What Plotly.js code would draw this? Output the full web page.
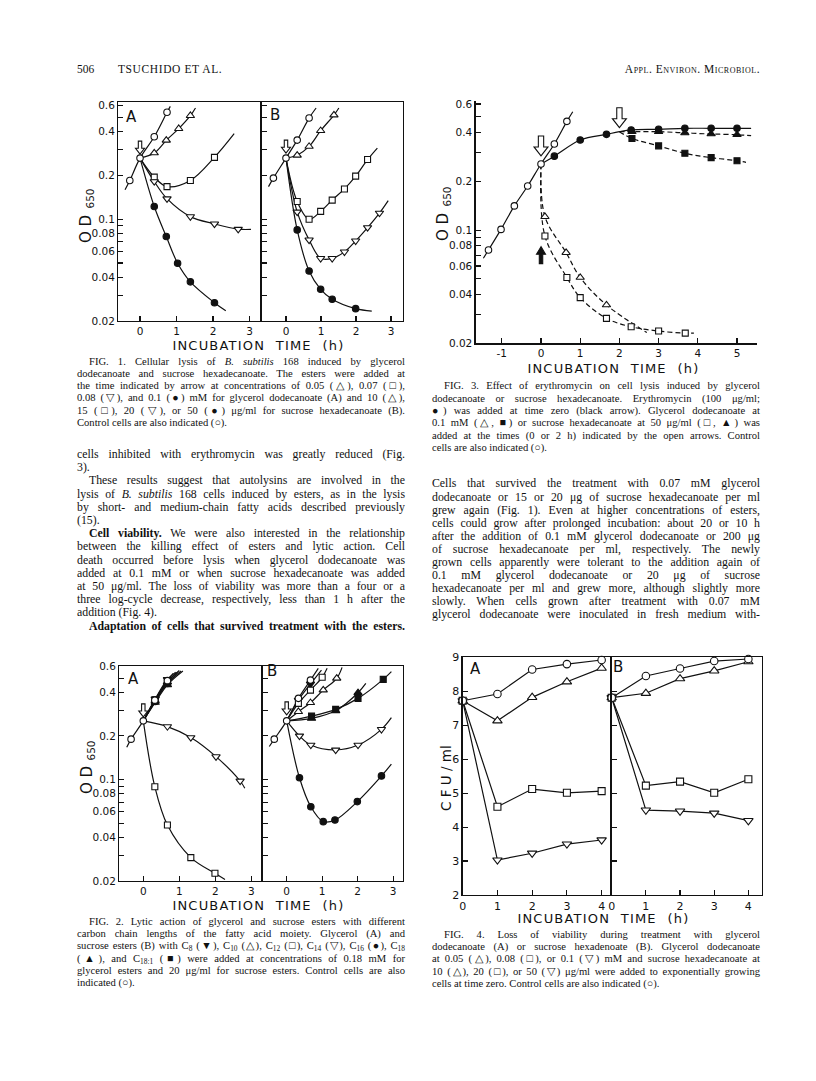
<!DOCTYPE html>
<html><head><meta charset="utf-8">
<script src="https://cdn.plot.ly/plotly-3.0.1.min.js"></script>
<style>
html,body{margin:0;padding:0;background:#fff;}
#page{position:relative;width:816px;height:1081px;overflow:hidden;background:#fff;}
#plot{position:absolute;left:0;top:0;width:816px;height:1081px;}
.tl{position:absolute;font-family:"Liberation Serif","Times New Roman",serif;color:#111;text-align:justify;text-align-last:justify;}
.tl.last{text-align-last:left;}
.tl sub{font-size:70%;vertical-align:-2px;line-height:1;}
.hd{position:absolute;font-family:"Liberation Serif","Times New Roman",serif;color:#111;font-size:11.5px;line-height:14px;white-space:nowrap;}
</style></head><body><div id="page"><div id="plot"></div></div>
<script>
// ================= DATA =================
// Fig. 1 (OD650 vs incubation time, h); *_pt: 1 = plotted symbol, 0 = curve end only
const f1a_ctrl_t = [-0.41, -0.28, 0, 0.39, 0.74, 0.83];
const f1a_ctrl_od = [0.159, 0.184, 0.262, 0.367, 0.54, 0.593];
const f1a_ctrl_pt = [0, 1, 1, 1, 1, 0];
const f1a_g005_t = [0, 0.39, 0.72, 1.06, 1.38, 1.52];
const f1a_g005_od = [0.262, 0.284, 0.347, 0.417, 0.512, 0.578];
const f1a_g005_pt = [0, 1, 1, 1, 1, 0];
const f1a_g007_t = [0, 0.39, 0.74, 1.38, 2.04, 2.58];
const f1a_g007_od = [0.262, 0.194, 0.167, 0.184, 0.265, 0.385];
const f1a_g007_pt = [0, 1, 1, 1, 1, 0];
const f1a_g008_t = [0, 0.39, 0.74, 1.38, 2.04, 2.69, 3.04];
const f1a_g008_od = [0.262, 0.181, 0.138, 0.104, 0.0927, 0.0853, 0.085];
const f1a_g008_pt = [0, 1, 1, 1, 1, 1, 0];
const f1a_g010_t = [0, 0.39, 0.72, 1.03, 1.38, 2.04, 2.35];
const f1a_g010_od = [0.262, 0.122, 0.0759, 0.0498, 0.0371, 0.0267, 0.0235];
const f1a_g010_pt = [0, 1, 1, 1, 1, 1, 0];

const f1b_ctrl_t = [-0.5, -0.36, 0, 0.32, 0.66, 0.86];
const f1b_ctrl_od = [0.167, 0.191, 0.262, 0.348, 0.493, 0.578];
const f1b_ctrl_pt = [0, 1, 1, 1, 1, 0];
const f1b_s10_t = [0, 0.32, 0.66, 0.99, 1.37, 1.51];
const f1b_s10_od = [0.262, 0.274, 0.315, 0.404, 0.517, 0.578];
const f1b_s10_pt = [0, 1, 1, 1, 1, 0];
const f1b_s15_t = [0, 0.32, 0.66, 0.99, 1.32, 1.67, 1.99, 2.33, 2.61];
const f1b_s15_od = [0.262, 0.132, 0.0998, 0.113, 0.135, 0.161, 0.197, 0.256, 0.307];
const f1b_s15_pt = [0, 1, 1, 1, 1, 1, 1, 1, 0];
const f1b_s20_t = [0, 0.32, 0.66, 0.99, 1.32, 1.67, 1.99, 2.33, 2.67, 2.92];
const f1b_s20_od = [0.262, 0.112, 0.072, 0.0538, 0.0538, 0.0596, 0.0709, 0.0875, 0.110, 0.134];
const f1b_s20_pt = [0, 1, 1, 1, 1, 1, 1, 1, 1, 0];
const f1b_s50_t = [0, 0.32, 0.66, 0.99, 1.32, 1.99, 2.45];
const f1b_s50_od = [0.262, 0.0843, 0.0441, 0.033, 0.0282, 0.0243, 0.0234];
const f1b_s50_pt = [0, 1, 1, 1, 1, 1, 0];

// Fig. 2 (OD650, chain length series)
const f2a_ctrl_t = [-0.46, -0.34, 0, 0.32, 0.67, 0.83];
const f2a_ctrl_od = [0.167, 0.19, 0.254, 0.353, 0.481, 0.54];
const f2a_ctrl_pt = [0, 1, 1, 1, 1, 0];
const f2a_c8_t = [0, 0.33, 0.67, 0.9];   const f2a_c8_od = [0.254, 0.36, 0.49, 0.55];   const f2a_c8_pt = [0, 1, 1, 0];
const f2a_c10_t = [0, 0.33, 0.67, 1.0];  const f2a_c10_od = [0.254, 0.35, 0.47, 0.565]; const f2a_c10_pt = [0, 1, 1, 0];
const f2a_c16_t = [0, 0.33, 0.67, 1.05]; const f2a_c16_od = [0.254, 0.345, 0.46, 0.56]; const f2a_c16_pt = [0, 1, 1, 0];
const f2a_c18_t = [0, 0.33, 0.67, 1.1];  const f2a_c18_od = [0.254, 0.34, 0.45, 0.56];  const f2a_c18_pt = [0, 1, 1, 0];
const f2a_c181_t = [0, 0.33, 0.67, 0.95]; const f2a_c181_od = [0.254, 0.355, 0.475, 0.55]; const f2a_c181_pt = [0, 1, 1, 0];
const f2a_c12_t = [0, 0.32, 0.67, 1.32, 1.99, 2.27];
const f2a_c12_od = [0.254, 0.0893, 0.0486, 0.029, 0.0226, 0.0205];
const f2a_c12_pt = [0, 1, 1, 1, 1, 0];
const f2a_c14_t = [0, 0.67, 1.32, 2.02, 2.69, 2.82];
const f2a_c14_od = [0.254, 0.232, 0.195, 0.144, 0.0978, 0.0871];
const f2a_c14_pt = [0, 1, 1, 1, 1, 0];

const f2b_ctrl_t = [-0.49, -0.35, 0, 0.33, 0.67, 0.89];
const f2b_ctrl_od = [0.169, 0.19, 0.254, 0.363, 0.485, 0.585];
const f2b_ctrl_pt = [0, 1, 1, 1, 1, 0];
const f2b_c8_t = [0, 0.33, 0.67, 0.98];  const f2b_c8_od = [0.254, 0.353, 0.456, 0.569]; const f2b_c8_pt = [0, 1, 1, 0];
const f2b_c10_t = [0, 0.33, 0.67, 1.03, 1.41, 1.56];
const f2b_c10_od = [0.254, 0.294, 0.339, 0.414, 0.499, 0.594];
const f2b_c10_pt = [0, 1, 1, 1, 1, 0];
const f2b_c12_t = [0, 0.33, 0.67, 1.0, 1.14];
const f2b_c12_od = [0.254, 0.335, 0.414, 0.507, 0.585];
const f2b_c12_pt = [0, 1, 1, 1, 0];
const f2b_c14_t = [0, 0.36, 0.68, 1.38, 2.01, 2.67, 2.95];
const f2b_c14_od = [0.254, 0.2, 0.173, 0.16, 0.173, 0.222, 0.267];
const f2b_c14_pt = [0, 1, 1, 1, 1, 1, 0];
const f2b_c16_t = [0, 0.36, 0.68, 1.03, 1.36, 1.99, 2.67, 2.95];
const f2b_c16_od = [0.254, 0.103, 0.065, 0.0513, 0.0526, 0.0705, 0.106, 0.128];
const f2b_c16_pt = [0, 1, 1, 1, 1, 1, 1, 0];
const f2b_c18_t = [0, 0.7, 1.38, 2.01, 2.23];
const f2b_c18_od = [0.254, 0.264, 0.298, 0.397, 0.46];
const f2b_c18_pt = [0, 1, 1, 1, 0];
const f2b_c181_t = [0, 0.7, 1.38, 2.01, 2.72, 2.95];
const f2b_c181_od = [0.254, 0.274, 0.305, 0.363, 0.491, 0.555];
const f2b_c181_pt = [0, 1, 1, 1, 1, 0];

// Fig. 3 (erythromycin)
const f3_ctrl_t = [-1.47, -1.34, -1.02, -0.68, -0.34, 0, 0.34, 0.66, 0.81];
const f3_ctrl_od = [0.067, 0.0754, 0.101, 0.141, 0.187, 0.256, 0.34, 0.469, 0.538];
const f3_ctrl_pt = [0, 1, 1, 1, 1, 1, 1, 1, 0];
const f3_ery_t = [0, 0.34, 1.0, 1.67, 2.0, 2.3, 3.0, 3.67, 4.34, 5.0, 5.36];
const f3_ery_od = [0.256, 0.286, 0.36, 0.39, 0.405, 0.415, 0.419, 0.425, 0.425, 0.425, 0.425];
const f3_ery_pt = [0, 1, 1, 1, 0, 1, 1, 1, 1, 1, 0];
const f3_gly2h_t = [2.0, 2.32, 3.0, 3.67, 4.34, 5.0, 5.23];
const f3_gly2h_od = [0.405, 0.368, 0.331, 0.298, 0.28, 0.268, 0.262];
const f3_gly2h_pt = [0, 1, 1, 1, 1, 1, 0];
const f3_suc2h_t = [2.0, 2.32, 3.0, 3.67, 4.34, 5.0, 5.36];
const f3_suc2h_od = [0.405, 0.405, 0.405, 0.398, 0.392, 0.388, 0.383];
const f3_suc2h_pt = [0, 1, 1, 1, 1, 1, 0];
const f3_gly0_t = [0, 0.1, 0.64, 1.0, 1.67, 2.7];
const f3_gly0_od = [0.256, 0.121, 0.0726, 0.051, 0.0345, 0.0233];
const f3_gly0_pt = [0, 1, 1, 1, 1, 0];
const f3_suc0_t = [0, 0.1, 0.66, 1.0, 1.67, 2.3, 3.0, 3.68, 3.9];
const f3_suc0_od = [0.256, 0.092, 0.051, 0.0383, 0.0285, 0.0253, 0.0238, 0.0231, 0.0231];
const f3_suc0_pt = [0, 1, 1, 1, 1, 1, 1, 1, 0];
const f3_openArrowT = [0, 2];            // ester additions (open arrows)
const f3_openArrowOD = [0.256, 0.405];
const f3_blackArrowT = [0];              // erythromycin addition (black arrow tip)
const f3_blackArrowOD = [0.079];

// Fig. 4 (log CFU/ml)
const f4_t = [0, 1, 2, 3, 4];
const f4a_ctrl = [7.72, 7.92, 8.64, 8.80, 8.92];
const f4a_g005 = [7.72, 7.13, 7.82, 8.28, 8.68];
const f4a_g008 = [7.72, 4.60, 5.12, 5.01, 5.06];
const f4a_g010 = [7.72, 3.03, 3.23, 3.50, 3.62];
const f4b_ctrl = [7.81, 8.45, 8.67, 8.89, 8.95];
const f4b_s10 = [7.81, 7.94, 8.37, 8.60, 8.87];
const f4b_s20 = [7.81, 5.22, 5.34, 5.01, 5.41];
const f4b_s50 = [7.81, 4.50, 4.47, 4.41, 4.19];

// ticks
const odTickVals = [0.02, 0.04, 0.06, 0.08, 0.1, 0.2, 0.4, 0.6];
const odTickText = ['0.02', '0.04', '0.06', '0.08', '0.1', '0.2', '0.4', '0.6'];
const odMinorVals = [0.03, 0.05, 0.07, 0.09, 0.3, 0.5];
const f12_hTicks = [0, 1, 2, 3];
const f3_hTicks = [-1, 0, 1, 2, 3, 4, 5];
const f3_hTickText = ['-1', '0', '1', '2', '3', '4', '5'];
const f4_hTicks = [0, 1, 2, 3, 4];
const f4_cfuTicks = [2, 3, 4, 5, 6, 7, 8, 9];

// ================= DRAWING =================
const W = 816, H = 1081, INK = '#111';
const SANS = 'DejaVu Sans, Liberation Sans, sans-serif';
const dx = (a, b) => [a / W, b / W];
const dy = (top, bot) => [1 - bot / H, 1 - top / H];

const lineTr = [], markTr = [];
function addSeries(ax, t, v, pt, sym, fill, o) {
  o = o || {};
  const xa = 'x' + (ax === 1 ? '' : ax), ya = 'y' + (ax === 1 ? '' : ax);
  lineTr.push({type:'scatter', mode:'lines', x:t, y:v, xaxis:xa, yaxis:ya, hoverinfo:'skip',
    line:{color:INK, width:1.2, shape:o.shape || 'spline', smoothing:o.sm == null ? 1 : o.sm, dash:o.dash || 'solid'}, cliponaxis:false});
  const mx = [], my = [];
  t.forEach((x, i) => { if (pt[i]) { mx.push(x); my.push(v[i]); } });
  let size = o.ms || 6.5;
  if (sym.indexOf('triangle') === 0) size += 0.8;
  if (sym === 'square') size -= 0.5;
  markTr.push({type:'scatter', mode:'markers', x:mx, y:my, xaxis:xa, yaxis:ya, hoverinfo:'skip',
    marker:{symbol:sym, size:size, color:fill ? INK : '#fff', line:{color:INK, width:1.1}}, cliponaxis:false});
}
const ones = a => a.map(() => 1);

// Fig 1
addSeries(1, f1a_g005_t, f1a_g005_od, f1a_g005_pt, 'triangle-up', false);
addSeries(1, f1a_g007_t, f1a_g007_od, f1a_g007_pt, 'square', false);
addSeries(1, f1a_g008_t, f1a_g008_od, f1a_g008_pt, 'triangle-down', false);
addSeries(1, f1a_g010_t, f1a_g010_od, f1a_g010_pt, 'circle', true);
addSeries(1, f1a_ctrl_t, f1a_ctrl_od, f1a_ctrl_pt, 'circle', false);
addSeries(2, f1b_s10_t, f1b_s10_od, f1b_s10_pt, 'triangle-up', false);
addSeries(2, f1b_s15_t, f1b_s15_od, f1b_s15_pt, 'square', false);
addSeries(2, f1b_s20_t, f1b_s20_od, f1b_s20_pt, 'triangle-down', false);
addSeries(2, f1b_s50_t, f1b_s50_od, f1b_s50_pt, 'circle', true);
addSeries(2, f1b_ctrl_t, f1b_ctrl_od, f1b_ctrl_pt, 'circle', false);
// Fig 2
addSeries(3, f2a_c8_t, f2a_c8_od, f2a_c8_pt, 'triangle-down', true);
addSeries(3, f2a_c10_t, f2a_c10_od, f2a_c10_pt, 'triangle-up', false);
addSeries(3, f2a_c16_t, f2a_c16_od, f2a_c16_pt, 'circle', true);
addSeries(3, f2a_c18_t, f2a_c18_od, f2a_c18_pt, 'triangle-up', true);
addSeries(3, f2a_c181_t, f2a_c181_od, f2a_c181_pt, 'square', true);
addSeries(3, f2a_c12_t, f2a_c12_od, f2a_c12_pt, 'square', false);
addSeries(3, f2a_c14_t, f2a_c14_od, f2a_c14_pt, 'triangle-down', false);
addSeries(3, f2a_ctrl_t, f2a_ctrl_od, f2a_ctrl_pt, 'circle', false);
addSeries(4, f2b_c8_t, f2b_c8_od, f2b_c8_pt, 'triangle-down', true);
addSeries(4, f2b_c10_t, f2b_c10_od, f2b_c10_pt, 'triangle-up', false);
addSeries(4, f2b_c12_t, f2b_c12_od, f2b_c12_pt, 'square', false);
addSeries(4, f2b_c14_t, f2b_c14_od, f2b_c14_pt, 'triangle-down', false);
addSeries(4, f2b_c16_t, f2b_c16_od, f2b_c16_pt, 'circle', true);
addSeries(4, f2b_c18_t, f2b_c18_od, f2b_c18_pt, 'triangle-up', true);
addSeries(4, f2b_c181_t, f2b_c181_od, f2b_c181_pt, 'square', true);
addSeries(4, f2b_ctrl_t, f2b_ctrl_od, f2b_ctrl_pt, 'circle', false);
// Fig 3
const DASH = '5px,3px';
addSeries(5, f3_gly0_t, f3_gly0_od, f3_gly0_pt, 'triangle-up', false, {dash:DASH});
addSeries(5, f3_suc0_t, f3_suc0_od, f3_suc0_pt, 'square', false, {dash:DASH});
addSeries(5, f3_suc2h_t, f3_suc2h_od, f3_suc2h_pt, 'triangle-up', true, {dash:DASH});
addSeries(5, f3_gly2h_t, f3_gly2h_od, f3_gly2h_pt, 'square', true, {dash:DASH});
addSeries(5, f3_ery_t, f3_ery_od, f3_ery_pt, 'circle', true);
addSeries(5, f3_ctrl_t, f3_ctrl_od, f3_ctrl_pt, 'circle', false);
// Fig 4
const L = {shape:'linear', ms:7.5};
addSeries(6, f4_t, f4a_g005, ones(f4_t), 'triangle-up', false, L);
addSeries(6, f4_t, f4a_g008, ones(f4_t), 'square', false, L);
addSeries(6, f4_t, f4a_g010, ones(f4_t), 'triangle-down', false, L);
addSeries(6, f4_t, f4a_ctrl, ones(f4_t), 'circle', false, L);
addSeries(7, f4_t, f4b_s10, ones(f4_t), 'triangle-up', false, L);
addSeries(7, f4_t, f4b_s20, ones(f4_t), 'square', false, L);
addSeries(7, f4_t, f4b_s50, ones(f4_t), 'triangle-down', false, L);
addSeries(7, f4_t, f4b_ctrl, ones(f4_t), 'circle', false, L);

function axis(dom, range, anchor, o) {
  const a = {domain:dom, range:range, anchor:anchor, showline:true, linecolor:INK, linewidth:1.3,
    mirror:o.mirror, ticks:'inside', ticklen:5, tickwidth:1.1, tickcolor:INK, tickmode:'array',
    tickvals:o.vals, ticktext:o.text, showticklabels:o.labels !== false, showgrid:false, zeroline:false,
    tickfont:{family:SANS, size:o.fs || 10.5, color:INK}, fixedrange:true};
  if (o.log) {
    a.type = 'log';
    a.minor = {tickmode:'array', tickvals:odMinorVals, ticks:'inside', ticklen:5, tickwidth:1.1, tickcolor:INK, showgrid:false};
  }
  return a;
}
const lg = v => Math.log10(v);
const f1y = dy(102.3, 321), f2y = dy(666, 881), f3y = dy(100.5, 343.3), f4y = dy(657.3, 895);
const layout = {
  width:W, height:H, margin:{l:0, r:0, t:0, b:0}, paper_bgcolor:'#fff', plot_bgcolor:'rgba(0,0,0,0)', showlegend:false,
  xaxis: axis(dx(118.3, 261.7), [-0.595, 3.334], 'y', {mirror:true, vals:f12_hTicks, text:f12_hTicks.map(String)}),
  yaxis: axis(f1y, [lg(0.02), -0.199], 'x', {mirror:false, log:true, vals:odTickVals, text:odTickText}),
  xaxis2: axis(dx(261.7, 402.7), [-0.694, 3.334], 'y2', {mirror:true, vals:f12_hTicks, text:f12_hTicks.map(String)}),
  yaxis2: axis(f1y, [lg(0.02), -0.199], 'x2', {mirror:true, log:true, vals:odTickVals, text:odTickText, labels:false}),
  xaxis3: axis(dx(119.3, 262.7), [-0.667, 3.317], 'y3', {mirror:true, vals:f12_hTicks, text:f12_hTicks.map(String)}),
  yaxis3: axis(f2y, [lg(0.02), -0.217], 'x3', {mirror:false, log:true, vals:odTickVals, text:odTickText}),
  xaxis4: axis(dx(262.7, 403), [-0.676, 3.277], 'y4', {mirror:true, vals:f12_hTicks, text:f12_hTicks.map(String)}),
  yaxis4: axis(f2y, [lg(0.02), -0.217], 'x4', {mirror:true, log:true, vals:odTickVals, text:odTickText, labels:false}),
  xaxis5: axis(dx(475.7, 757), [-1.666, 5.51], 'y5', {mirror:false, vals:f3_hTicks, text:f3_hTickText}),
  yaxis5: axis(f3y, [lg(0.02), -0.2], 'x5', {mirror:false, log:true, vals:odTickVals, text:odTickText}),
  xaxis6: axis(dx(462.7, 611.7), [0, 4.29], 'y6', {mirror:true, vals:f4_hTicks, text:f4_hTicks.map(String), fs:11}),
  yaxis6: axis(f4y, [2, 9], 'x6', {mirror:false, vals:f4_cfuTicks, text:f4_cfuTicks.map(String), fs:11}),
  xaxis7: axis(dx(611.7, 761.7), [0, 4.39], 'y7', {mirror:true, vals:f4_hTicks, text:f4_hTicks.map(String), fs:11}),
  yaxis7: axis(f4y, [2, 9], 'x7', {mirror:true, vals:f4_cfuTicks, text:f4_cfuTicks.map(String), labels:false}),
  annotations: [], shapes: []
};
function ann(text, x, y, size, o) {
  o = o || {};
  layout.annotations.push({text:text, xref:'paper', yref:'paper', x:x / W, y:1 - y / H, xanchor:'center', yanchor:'middle',
    showarrow:false, textangle:o.angle || 0, font:{family:SANS, size:size, color:INK}});
}
const XT = 'INCUBATION\u00a0\u00a0TIME\u00a0\u00a0(h)';
ann(XT, 258, 345, 13); ann(XT, 258, 905, 13); ann(XT, 613, 368, 13); ann(XT, 603, 918, 13);
// "O D" with subscript "650", rotated (reads bottom to top)
function odTitle(x, yOD, y650) {
  ann('O\u00a0D', x, yOD, 15, {angle:-90});
  ann('650', x + 3.5, y650, 10.5, {angle:-90});
}
odTitle(86, 229, 199); odTitle(87, 780, 751); odTitle(443, 227, 197);
ann('C F U / ml', 446, 778, 13.5, {angle:-90});
ann('A', 131, 117, 15); ann('B', 275, 115, 15);
ann('A', 133, 679, 15); ann('B', 272, 671, 15);
ann('A', 475, 669, 15); ann('B', 618, 667, 15);

// arrows (pixel-sized shapes anchored at data points)
function arrow(ax, t, od, dir, w, h, gap, filled) {
  const hw = w / 2, sw = w * 0.19, hh = h * 0.45;
  let p;
  if (dir === 'down') {
    p = `M0,${gap} L${-hw},${gap + hh} L${-sw},${gap + hh} L${-sw},${gap + h} L${sw},${gap + h} L${sw},${gap + hh} L${hw},${gap + hh} Z`;
  } else {
    p = `M0,${-gap} L${-hw},${-gap - hh} L${-sw},${-gap - hh} L${-sw},${-gap - h} L${sw},${-gap - h} L${sw},${-gap - hh} L${hw},${-gap - hh} Z`;
  }
  const s = ax === 1 ? '' : ax;
  layout.shapes.push({type:'path', xref:'x' + s, yref:'y' + s, xsizemode:'pixel', ysizemode:'pixel',
    xanchor:t, yanchor:od, path:p, fillcolor:filled ? INK : '#fff', line:{color:INK, width:1.1}, layer:'above'});
}
arrow(1, f1a_ctrl_t[2], f1a_ctrl_od[2], 'down', 9, 13, 4, false);
arrow(2, f1b_ctrl_t[2], f1b_ctrl_od[2], 'down', 9, 13, 5, false);
arrow(3, f2a_ctrl_t[2], f2a_ctrl_od[2], 'down', 9, 13, 4, false);
arrow(4, f2b_ctrl_t[2], f2b_ctrl_od[2], 'down', 9, 13, 6, false);
f3_openArrowT.forEach((t, i) => arrow(5, t, f3_openArrowOD[i], 'down', 14, 20, i === 0 ? 8 : 4, false));
f3_blackArrowT.forEach((t, i) => arrow(5, t, f3_blackArrowOD[i], 'up', 9, 17, 0, true));

Plotly.newPlot('plot', lineTr.concat(markTr), layout, {staticPlot:true, displayModeBar:false}).then(() => {
  document.querySelectorAll('#plot .annotation-text').forEach(el => {
    if (el.textContent.indexOf('INCUBATION') >= 0) el.style.letterSpacing = '1.2px';
  });
});

// ================= PAGE TEXT =================
const page = document.getElementById('page');
function block(left, width, center0, step, size, lines) {
  lines.forEach((ln, i) => {
    const d = document.createElement('div');
    const ind = ln[1].indexOf('i') >= 0 ? 12 : 0;
    d.className = 'tl' + (ln[1].indexOf('l') >= 0 ? ' last' : '');
    d.style.left = (left + ind) + 'px';
    d.style.width = (width - ind) + 'px';
    d.style.top = (center0 + i * step - step / 2) + 'px';
    d.style.height = step + 'px';
    d.style.lineHeight = step + 'px';
    d.style.fontSize = size + 'px';
    d.innerHTML = ln[0];
    page.appendChild(d);
  });
}
function hd(html, left, right, center, extra) {
  const d = document.createElement('div');
  d.className = 'hd';
  d.style.top = (center - 7) + 'px';
  if (left != null) d.style.left = left + 'px';
  if (right != null) { d.style.right = (W - right) + 'px'; }
  if (extra) d.style.cssText += extra;
  d.innerHTML = html;
  page.appendChild(d);
}
hd('506', 77, null, 69);
hd('TSUCHIDO ET AL.', 118, null, 69, 'letter-spacing:0.6px;');
hd('A<span style="font-variant:small-caps">ppl</span>. E<span style="font-variant:small-caps">nviron</span>. M<span style="font-variant:small-caps">icrobiol</span>.', null, 760, 69, 'letter-spacing:0.5px;');

const CAP = 10.6, BODY = 11.8;
block(77, 328, 361.7, 12.3, CAP, [
  ['FIG. 1. Cellular lysis of <i>B. subtilis</i> 168 induced by glycerol', 'i'],
  ['dodecanoate and sucrose hexadecanoate. The esters were added at', ''],
  ['the time indicated by arrow at concentrations of 0.05 (△), 0.07 (□),', ''],
  ['0.08 (▽), and 0.1 (●) mM for glycerol dodecanoate (A) and 10 (△),', ''],
  ['15 (□), 20 (▽), or 50 (●) μg/ml for sucrose hexadecanoate (B).', ''],
  ['Control cells are also indicated (○).', 'l']
]);
block(77, 328, 454.5, 13.2, BODY, [
  ['cells inhibited with erythromycin was greatly reduced (Fig.', ''],
  ['3).', 'l'],
  ['These results suggest that autolysins are involved in the', 'i'],
  ['lysis of <i>B. subtilis</i> 168 cells induced by esters, as in the lysis', ''],
  ['by short- and medium-chain fatty acids described previously', ''],
  ['(15).', 'l'],
  ['<b>Cell viability.</b> We were also interested in the relationship', 'i'],
  ['between the killing effect of esters and lytic action. Cell', ''],
  ['death occurred before lysis when glycerol dodecanoate was', ''],
  ['added at 0.1 mM or when sucrose hexadecanoate was added', ''],
  ['at 50 μg/ml. The loss of viability was more than a four or a', ''],
  ['three log-cycle decrease, respectively, less than 1 h after the', ''],
  ['addition (Fig. 4).', 'l'],
  ['<b>Adaptation of cells that survived treatment with the esters.</b>', 'i']
]);
block(77, 328, 922, 12.2, CAP, [
  ['FIG. 2. Lytic action of glycerol and sucrose esters with different', 'i'],
  ['carbon chain lengths of the fatty acid moiety. Glycerol (A) and', ''],
  ['sucrose esters (B) with C<sub>8</sub> (▼), C<sub>10</sub> (△), C<sub>12</sub> (□), C<sub>14</sub> (▽), C<sub>16</sub> (●), C<sub>18</sub>', ''],
  ['(▲), and C<sub>18:1</sub> (■) were added at concentrations of 0.18 mM for', ''],
  ['glycerol esters and 20 μg/ml for sucrose esters. Control cells are also', ''],
  ['indicated (○).', 'l']
]);
block(432, 328, 386.5, 12.3, CAP, [
  ['FIG. 3. Effect of erythromycin on cell lysis induced by glycerol', 'i'],
  ['dodecanoate or sucrose hexadecanoate. Erythromycin (100 μg/ml;', ''],
  ['●) was added at time zero (black arrow). Glycerol dodecanoate at', ''],
  ['0.1 mM (△, ■) or sucrose hexadecanoate at 50 μg/ml (□, ▲) was', ''],
  ['added at the times (0 or 2 h) indicated by the open arrows. Control', ''],
  ['cells are also indicated (○).', 'l']
]);
block(432, 328, 484, 13.1, BODY, [
  ['Cells that survived the treatment with 0.07 mM glycerol', ''],
  ['dodecanoate or 15 or 20 μg of sucrose hexadecanoate per ml', ''],
  ['grew again (Fig. 1). Even at higher concentrations of esters,', ''],
  ['cells could grow after prolonged incubation: about 20 or 10 h', ''],
  ['after the addition of 0.1 mM glycerol dodecanoate or 200 μg', ''],
  ['of sucrose hexadecanoate per ml, respectively. The newly', ''],
  ['grown cells apparently were tolerant to the addition again of', ''],
  ['0.1 mM glycerol dodecanoate or 20 μg of sucrose', ''],
  ['hexadecanoate per ml and grew more, although slightly more', ''],
  ['slowly. When cells grown after treatment with 0.07 mM', ''],
  ['glycerol dodecanoate were inoculated in fresh medium with-', '']
]);
block(432, 328, 935, 12.3, CAP, [
  ['FIG. 4. Loss of viability during treatment with glycerol', 'i'],
  ['dodecanoate (A) or sucrose hexadenoate (B). Glycerol dodecanoate', ''],
  ['at 0.05 (△), 0.08 (□), or 0.1 (▽) mM and sucrose hexadecanoate at', ''],
  ['10 (△), 20 (□), or 50 (▽) μg/ml were added to exponentially growing', ''],
  ['cells at time zero. Control cells are also indicated (○).', 'l']
]);
</script></body></html>
